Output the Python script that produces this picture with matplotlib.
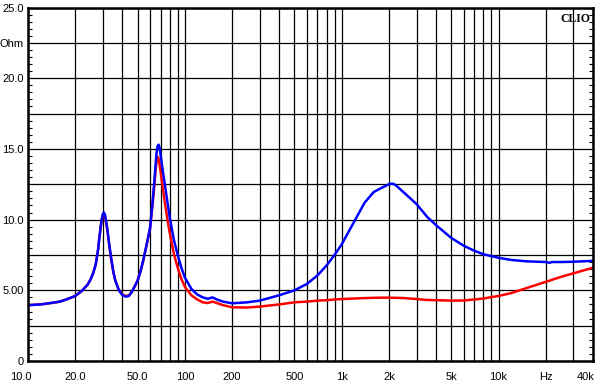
import numpy as np
import matplotlib
matplotlib.use('Agg')
import matplotlib.pyplot as plt
from matplotlib.transforms import ScaledTranslation

# frequencies (Hz)
freq = [10, 12, 14, 16, 18, 20, 22, 24, 25, 26, 27, 28, 28.5, 29, 29.5, 30, 30.5, 31, 32, 33,
        34, 35, 36, 38, 40, 42, 44, 46, 48, 50, 52, 54, 56, 58, 60, 62, 64, 65, 66, 67,
        68, 69, 70, 72, 75, 78, 80, 85, 90, 95, 100, 110, 120, 130, 140, 150, 160, 175, 200, 250,
        300, 400, 500, 600, 700, 800, 900, 1000, 1200, 1400, 1600, 1800, 2000, 2100, 2200, 2500, 3000, 3500, 4000, 5000,
        6000, 7000, 8000, 10000, 12000, 15000, 20000, 21000, 22000, 25000, 30000, 40000]

# impedance, blue curve (Ohm)
z_blue = [3.95, 4.0, 4.1, 4.2, 4.4, 4.6, 4.95, 5.4, 5.75, 6.2, 6.8, 7.9, 8.7, 9.4, 10.0, 10.4, 10.5, 10.3, 9.4, 8.2,
          7.2, 6.3, 5.7, 5.0, 4.65, 4.55, 4.6, 4.9, 5.3, 5.7, 6.3, 7.0, 7.8, 8.6, 9.4, 11.0, 12.8, 13.8, 14.7, 15.2,
          15.3, 15.1, 14.6, 13.6, 12.3, 11.0, 10.2, 8.6, 7.5, 6.6, 5.9, 5.1, 4.7, 4.5, 4.4, 4.5, 4.35, 4.2, 4.08, 4.15,
          4.27, 4.65, 5.0, 5.45, 6.05, 6.75, 7.5, 8.25, 9.85, 11.2, 11.95, 12.25, 12.5, 12.55, 12.45, 11.9, 11.1, 10.2, 9.6, 8.7,
          8.15, 7.8, 7.55, 7.3, 7.15, 7.05, 7.0, 6.95, 7.0, 7.0, 7.02, 7.08]

# impedance, red curve (Ohm)
z_red = [3.95, 4.0, 4.1, 4.2, 4.4, 4.6, 4.95, 5.4, 5.75, 6.2, 6.8, 7.9, 8.7, 9.4, 10.0, 10.3, 10.4, 10.2, 9.3, 8.1,
         7.1, 6.3, 5.7, 5.0, 4.7, 4.6, 4.65, 4.9, 5.3, 5.7, 6.3, 7.0, 7.8, 8.6, 9.4, 10.9, 12.5, 13.4, 14.1, 14.45,
         14.3, 13.9, 13.4, 12.4, 11.0, 9.8, 9.1, 7.6, 6.6, 5.8, 5.25, 4.65, 4.35, 4.15, 4.1, 4.2, 4.1, 3.95, 3.8, 3.78,
         3.85, 4.0, 4.15, 4.2, 4.27, 4.3, 4.35, 4.38, 4.42, 4.45, 4.47, 4.48, 4.48, 4.47, 4.47, 4.45, 4.38, 4.32, 4.3, 4.27,
         4.28, 4.35, 4.42, 4.6, 4.8, 5.15, 5.6, 5.67, 5.75, 5.95, 6.2, 6.6]

xgrid = [d * m for d in (10, 100, 1000, 10000) for m in range(1, 10) if d * m <= 40000]
xlab = {10: '10.0', 20: '20.0', 50: '50.0', 100: '100', 200: '200', 500: '500', 1000: '1k',
        2000: '2k', 5000: '5k', 10000: '10k', 20000: 'Hz', 40000: '40k'}
ygrid = [0, 2.5, 5, 7.5, 10, 12.5, 15, 17.5, 20, 22.5, 25]
ylab = {0: '0', 5: '5.00', 10: '10.0', 15: '15.0', 20: '20.0', 22.5: 'Ohm', 25: '25.0'}

plt.rcParams['font.family'] = ['Liberation Sans', 'DejaVu Sans']
fig = plt.figure(figsize=(6.03, 3.84), dpi=100)
ax = fig.add_axes([28 / 603, 23 / 384, 565 / 603, 353.5 / 384])

ax.plot(freq, z_red, color='#ff0000', lw=1.8, zorder=3)
ax.plot(freq, z_blue, color='#0000ff', lw=1.8, zorder=4)

ax.set_xscale('log')
ax.set_xlim(10, 40000)
ax.set_ylim(0, 25)

ax.set_xticks(xgrid)
ax.set_xticklabels([xlab.get(v, '') for v in xgrid])
ax.xaxis.set_minor_locator(matplotlib.ticker.NullLocator())
ax.set_yticks(ygrid)
ax.set_yticklabels([ylab.get(v, '') for v in ygrid])
ax.set_yticks(np.arange(0, 25.01, 0.5), minor=True)

ax.grid(True, which='major', color='black', lw=0.9)
ax.tick_params(axis='x', which='major', length=0, pad=8, labelsize=8)
ax.tick_params(axis='y', which='major', length=0, pad=3, labelsize=8)
ax.tick_params(axis='y', which='minor', direction='in', length=3, width=0.8,
               left=True, right=True)
for s in ax.spines.values():
    s.set_linewidth(1.8)
    s.set_zorder(5)

# first and last x labels sit a bit left of their gridline
tl = ax.get_xticklabels()
for lab in (tl[0], tl[-1]):
    lab.set_transform(lab.get_transform() + ScaledTranslation(-7 / 100, 0, fig.dpi_scale_trans))

ax.text(0.995, 0.985, 'CLIO', transform=ax.transAxes, ha='right', va='top',
        family='Liberation Serif', fontweight='bold', fontsize=8.5, zorder=6)

fig.savefig('out.png', dpi=100)
